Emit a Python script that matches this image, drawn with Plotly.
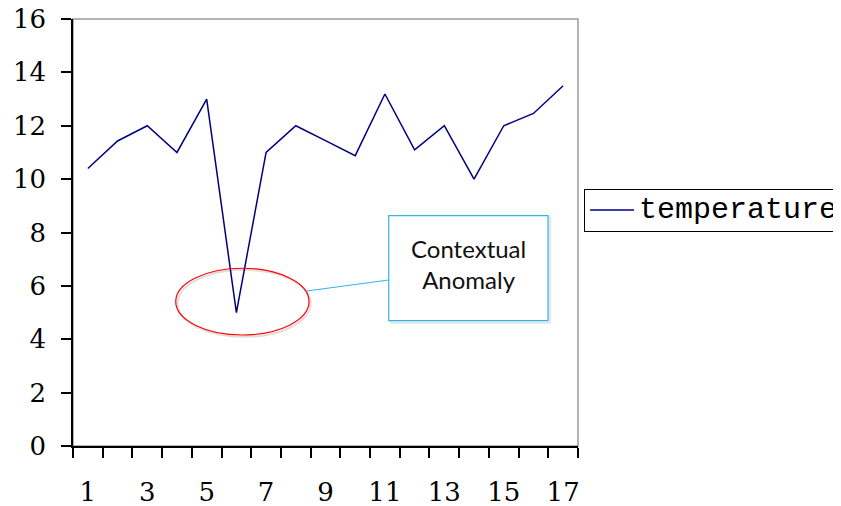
import plotly.graph_objects as go

days = list(range(1, 18))
temperature = [10.4, 11.43, 12.0, 11.0, 13.0, 5.0, 11.0, 12.0, 11.44, 10.88,
               13.19, 11.1, 12.0, 10.0, 12.0, 12.46, 13.5]
x_tick_vals = [1, 3, 5, 7, 9, 11, 13, 15, 17]
y_tick_vals = [0, 2, 4, 6, 8, 10, 12, 14, 16]
series_name = "temperature"

fig = go.Figure()
fig.add_trace(go.Scatter(x=days, y=temperature, mode="lines",
                         name='<span style="font-size:30px">' + series_name + '</span>',
                         line=dict(color="#000080", width=1.5)))

# the page body has an 8px margin, so the figure is offset by 8px
OFF = 8
W, H = 841 - OFF, 506 - OFF
L, T = 73 - OFF, 19 - OFF
PW, PH = 505, 427
R, B = W - L - PW, H - T - PH

fig.update_layout(
    width=W, height=H,
    margin=dict(l=L, r=R, t=T, b=B, autoexpand=False),
    paper_bgcolor="white", plot_bgcolor="white",
    showlegend=True,
    legend=dict(x=1.012, y=0.552, xanchor="left", yanchor="middle",
                bordercolor="black", borderwidth=1, bgcolor="white", itemwidth=44,
                font=dict(family="Liberation Mono", size=21, color="black")),
    xaxis=dict(range=[0.5, 17.5], tickmode="array", tickvals=x_tick_vals,
               ticks="", showgrid=False, zeroline=False,
               showline=True, linecolor="black", linewidth=1.5,
               ticklabelstandoff=22, ticklabeloverflow="allow",
               tickfont=dict(family="DejaVu Serif", size=26, color="black"),
               minor=dict(tickmode="linear", tick0=0.5, dtick=1, ticks="outside",
                          ticklen=10, tickcolor="black", tickwidth=1.5, showgrid=False)),
    yaxis=dict(range=[0, 16], tickmode="array", tickvals=y_tick_vals,
               ticks="outside", ticklen=10, tickcolor="black", tickwidth=1.5,
               showgrid=False, zeroline=False,
               showline=True, linecolor="black", linewidth=1.5,
               ticklabelstandoff=10, ticklabeloverflow="allow",
               tickfont=dict(family="DejaVu Serif", size=26, color="black")),
)

# gray plot border (top/right)
fig.add_shape(type="rect", xref="paper", yref="paper", x0=0, x1=1, y0=0, y1=1,
              line=dict(color="#999999", width=1.5), layer="below")

# ellipse around anomaly (shadow + red)
fig.add_shape(type="circle", xref="x", yref="y", x0=4.02, x1=8.5, y0=4.09, y1=6.6,
              line=dict(color="#dddddd", width=2), layer="below")
fig.add_shape(type="circle", xref="x", yref="y", x0=3.958, x1=8.446, y0=4.16, y1=6.66,
              line=dict(color="#ff0000", width=1.2))

# connector
fig.add_shape(type="line", xref="x", yref="y", x0=8.367, y0=5.808, x1=11.128, y1=6.22,
              line=dict(color="#33b5e5", width=1))

# callout box shadow + box
fig.add_shape(type="rect", xref="x", yref="y", x0=11.2, x1=16.56, y0=4.62, y1=8.56,
              line=dict(color="#e6e6e6", width=2), fillcolor="#f3f3f3", layer="below")
fig.add_shape(type="rect", xref="x", yref="y", x0=11.128, x1=16.49, y0=4.695, y1=8.63,
              line=dict(color="#33b5e5", width=1.2), fillcolor="white")
fig.add_annotation(x=(11.128 + 16.49) / 2, y=(4.695 + 8.63) / 2 + 0.15, xref="x", yref="y",
                   text="Contextual<br>Anomaly", showarrow=False,
                   font=dict(family="Lato", size=24, color="#111111"))

fig.write_html("out.html")
